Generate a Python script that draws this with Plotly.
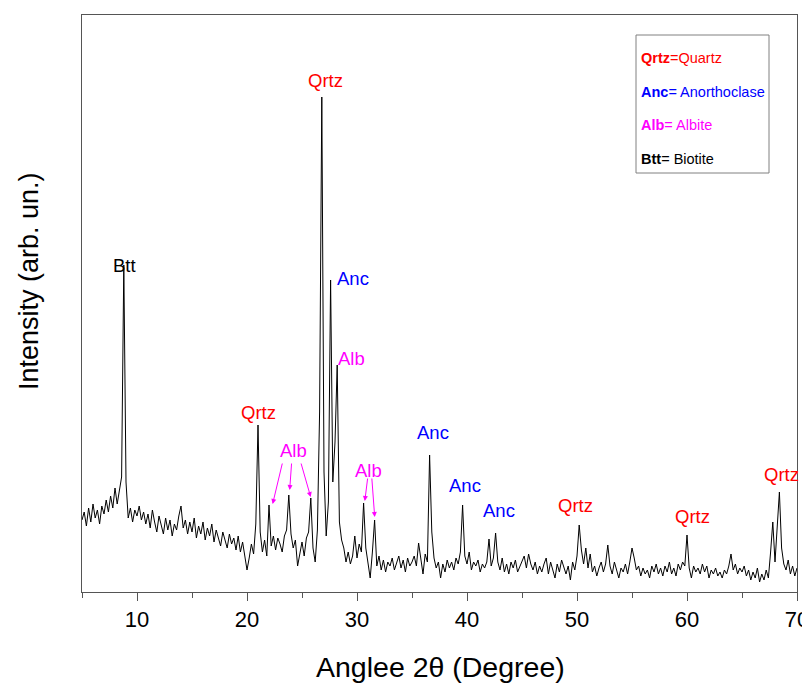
import numpy as np
import plotly.graph_objects as go

# 2theta grid (degrees), 0.2 step from 5 to 70
two_theta = np.round(np.arange(5.0, 70.0001, 0.2), 1)

intensity = [
    72, 80, 66, 84, 70, 88, 74, 82, 68, 86,          # 5.0-6.8
    78, 92, 80, 96, 84, 104, 88, 100, 115, 327,      # 7.0-8.8
    110, 74, 84, 70, 82, 76, 86, 72, 80, 68,         # 9.0-10.8
    78, 64, 82, 70, 60, 76, 66, 58, 74, 62,          # 11.0-12.8
    72, 56, 68, 62, 76, 86, 64, 72, 58, 70,          # 13.0-14.8
    60, 74, 54, 66, 58, 70, 52, 64, 56, 68,          # 15.0-16.8
    50, 62, 54, 46, 60, 52, 44, 58, 48, 54,          # 17.0-18.8
    42, 56, 40, 50, 36, 22, 34, 48, 38, 68,          # 19.0-20.8
    167, 60, 40, 52, 36, 87, 46, 56, 42, 54,         # 21.0-22.8
    48, 40, 56, 62, 97, 58, 44, 52, 26, 40,          # 23.0-24.8
    50, 36, 54, 60, 94, 44, 30, 62, 180, 495,        # 25.0-26.8
    120, 56, 90, 312, 110, 150, 227, 70, 52, 44,     # 27.0-28.8
    30, 40, 28, 36, 56, 34, 48, 40, 89, 44,          # 29.0-30.8
    30, 14, 40, 72, 26, 36, 22, 32, 20, 30,          # 31.0-32.8
    26, 34, 22, 30, 36, 24, 32, 20, 34, 26,          # 33.0-34.8
    30, 36, 26, 49, 32, 18, 38, 30, 137, 60,         # 35.0-36.8
    34, 24, 30, 14, 28, 20, 32, 24, 30, 22,          # 37.0-38.8
    34, 28, 40, 87, 36, 28, 40, 22, 30, 26,          # 39.0-40.8
    32, 20, 28, 24, 30, 53, 26, 34, 59, 30,          # 41.0-42.8
    22, 34, 20, 28, 18, 30, 24, 32, 20, 26,          # 43.0-44.8
    30, 36, 24, 38, 28, 22, 30, 18, 26, 20,          # 45.0-46.8
    28, 34, 18, 30, 22, 14, 28, 20, 32, 24,          # 47.0-48.8
    18, 26, 12, 30, 22, 36, 67, 42, 28, 44,          # 49.0-50.8
    24, 38, 20, 26, 16, 24, 30, 20, 28, 47,          # 51.0-52.8
    26, 18, 30, 22, 14, 24, 20, 28, 18, 30,          # 53.0-54.8
    44, 34, 22, 26, 16, 24, 18, 22, 14, 26,          # 55.0-56.8
    20, 28, 18, 24, 16, 26, 20, 30, 18, 24,          # 57.0-58.8
    16, 28, 22, 30, 26, 57, 24, 14, 26, 20,          # 59.0-60.8
    24, 18, 28, 20, 26, 14, 22, 18, 24, 16,          # 61.0-62.8
    20, 14, 22, 18, 26, 38, 22, 28, 18, 24,          # 63.0-64.8
    20, 26, 16, 22, 12, 20, 14, 24, 10, 18,          # 65.0-66.8
    12, 22, 14, 40, 70, 30, 66, 100, 44, 28,         # 67.0-68.8
    22, 32, 18, 26, 16, 24,                          # 69.0-70.0
]

# phase labels
label_text = ["Btt", "Qrtz", "Qrtz", "Anc", "Alb", "Alb", "Alb", "Anc", "Anc", "Anc", "Qrtz", "Qrtz", "Qrtz"]
label_x = [8.9, 21.0, 27.1, 29.6, 29.5, 24.2, 31.0, 36.9, 39.8, 42.9, 49.9, 60.5, 68.6]
label_y = [327, 180, 512, 314, 234, 142, 122, 160, 107, 82, 87, 76, 118]

phase_colors = {"Qrtz": "#ff0000", "Anc": "#0000ff", "Alb": "#ff00ff", "Btt": "#000000"}

legend_abbr = ["Qrtz", "Anc", "Alb", "Btt"]
legend_name = ["=Quartz", "= Anorthoclase", "= Albite", "= Biotite"]

FONT = "Liberation Sans, Arial"

fig = go.Figure()
fig.add_trace(go.Scatter(x=two_theta, y=intensity, mode="lines",
                         line=dict(color="black", width=1), showlegend=False))

annotations = []
for t, x, y in zip(label_text, label_x, label_y):
    annotations.append(dict(x=x, y=y, text=t, showarrow=False, xref="x", yref="y",
                            font=dict(family=FONT, size=18.5, color=phase_colors[t])))

# arrows for Alb
arrows = [((23.24, 130), (22.33, 88)), ((24.06, 130), (23.88, 102)), ((24.88, 130), (25.79, 95)),
          ((30.98, 115), (30.71, 91)), ((31.34, 115), (31.61, 75))]
for (tx, ty), (hx, hy) in arrows:
    annotations.append(dict(x=hx, y=hy, ax=tx, ay=ty, xref="x", yref="y", axref="x", ayref="y",
                            text="", showarrow=True, arrowhead=2, arrowsize=1, arrowwidth=1,
                            arrowcolor="#ff00ff"))

# legend box text (paper coords, plot area 82..797 x 15..592 in page pixels)
pw, ph = 715.0, 577.0
def px(xp):
    return (xp - 82) / pw
def py(yp):
    return (592 - yp) / ph

leg_y = [58, 92, 125, 159]
for a, n, yy in zip(legend_abbr, legend_name, leg_y):
    annotations.append(dict(x=px(639), y=py(yy), xref="paper", yref="paper", xanchor="left", yanchor="middle",
                            text=f"<b>{a}</b>{n}", showarrow=False,
                            font=dict(family=FONT, size=14.5, color=phase_colors[a])))

# axis titles
annotations.append(dict(x=px(440), y=py(667), xref="paper", yref="paper", xanchor="center", yanchor="middle",
                        text="Anglee 2θ (Degree)", showarrow=False, font=dict(family=FONT, size=28.5, color="black")))
annotations.append(dict(x=px(29), y=py(281), xref="paper", yref="paper", xanchor="center", yanchor="middle",
                        text="Intensity (arb. un.)", textangle=-90, showarrow=False,
                        font=dict(family=FONT, size=27, color="black")))

# page body has an 8px margin; compensate so the plot area lands at 82..797 x 15..592
fig.update_layout(
    width=802, height=676,
    margin=dict(l=74, r=13, t=7, b=92),
    paper_bgcolor="white", plot_bgcolor="white",
    annotations=annotations,
    shapes=[dict(type="rect", xref="paper", yref="paper", x0=px(636), x1=px(769), y0=py(173), y1=py(35),
                 line=dict(color="#808080", width=1), fillcolor="rgba(0,0,0,0)")],
    font=dict(family=FONT, color="black"),
)
fig.update_xaxes(range=[5, 70], tick0=10, dtick=10, ticks="outside", ticklen=8, tickwidth=1,
                 tickcolor="#555", showline=True, linecolor="#555", linewidth=1, mirror=True,
                 showgrid=False, zeroline=False, automargin=False,
                 minor=dict(dtick=5, tick0=5, ticks="outside", ticklen=5, tickcolor="#555", showgrid=False),
                 tickfont=dict(size=22))
fig.update_yaxes(range=[0, 577], showticklabels=False, ticks="", showline=True, linecolor="#555",
                 linewidth=1, mirror=True, showgrid=False, zeroline=False, automargin=False)

fig.write_html("out.html")
